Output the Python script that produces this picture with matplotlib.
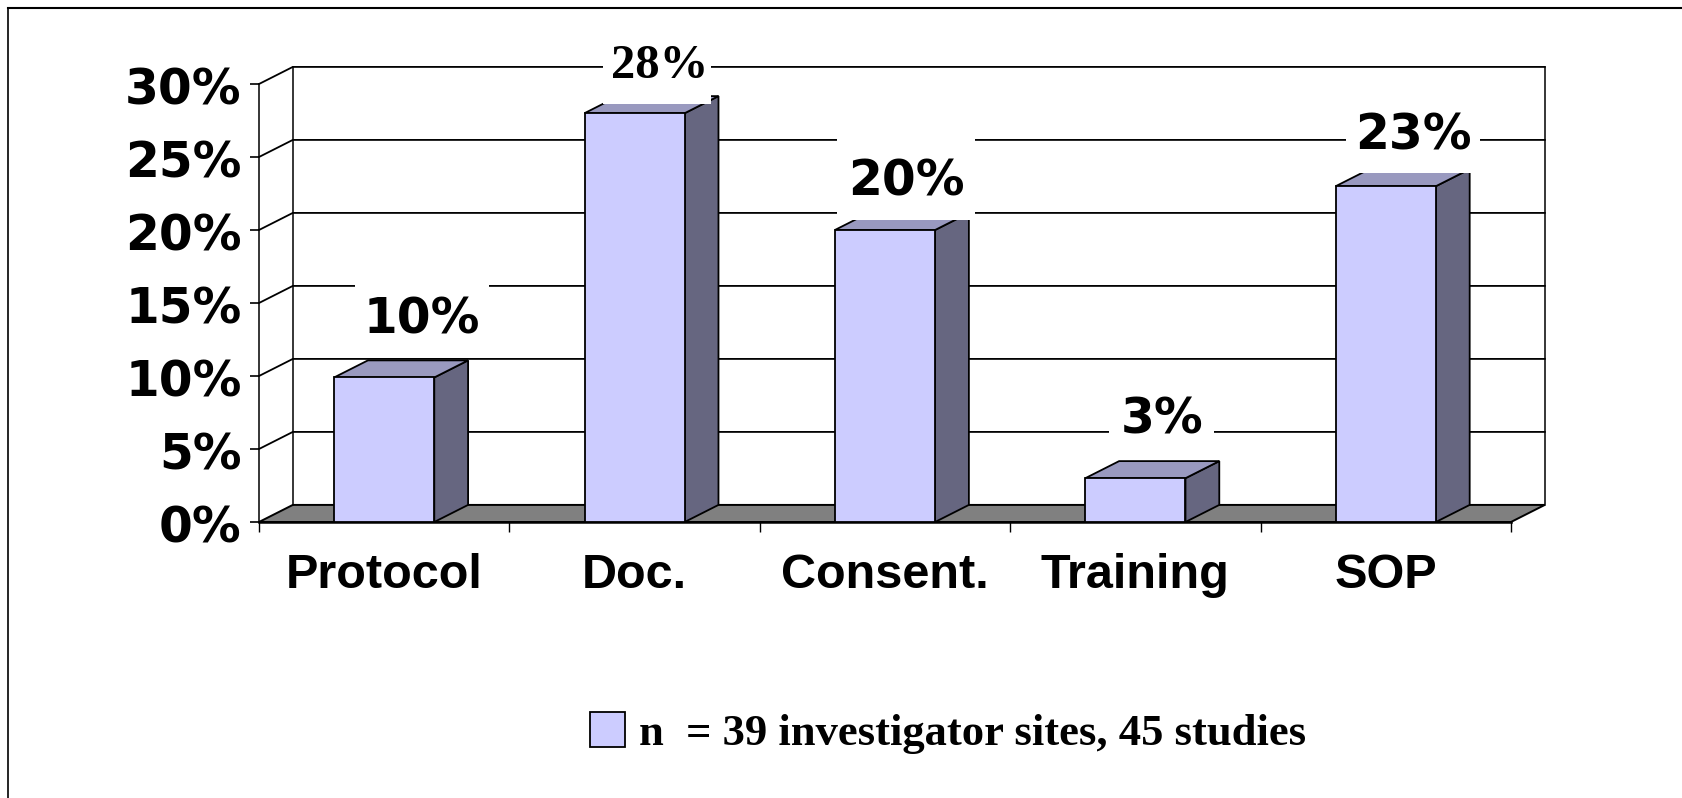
import matplotlib
matplotlib.use('Agg')
import matplotlib.pyplot as plt
from matplotlib.lines import Line2D
from matplotlib.patches import Rectangle
from matplotlib.transforms import ScaledTranslation

categories = ['Protocol', 'Doc.', 'Consent.', 'Training', 'SOP']
values = [9.9, 28, 20, 3, 23]
value_labels = ['10%', '28%', '20%', '3%', '23%']
y_ticks = [0, 5, 10, 15, 20, 25, 30]
y_tick_labels = ['0%', '5%', '10%', '15%', '20%', '25%', '30%']
legend_label = 'n  = 39 investigator sites, 45 studies'

# label placement relative to the top of each bar
label_dx = [0.15, 0.09, 0.085, 0.105, 0.11]
label_dy = [4.2, 3.4, 3.5, 4.2, 3.7]
label_box_w = [0.535, 0.43, 0.55, 0.42, 0.535]
label_box_h = 5.6
text_shift = -0.2

W, H = 1683, 798
depth_x = 0.135
depth_y = 1.17
bar_w = 0.4

front = '#CCCCFF'
side = '#666680'
top = '#9999BF'
floor = '#808080'
sans = 'DejaVu Sans'
cat_font = 'Liberation Sans'
serif = 'Liberation Serif'

fig = plt.figure(figsize=(W / 100, H / 100), dpi=100, facecolor='white')
ax = fig.add_axes([259 / W, 1 - 522 / H, 1252 / W, 438 / H])
ax.set_xlim(0, 5)
ax.set_ylim(0, 30)
ax.patch.set_visible(False)

# floor and walls
ax.fill([0, 5, 5 + depth_x, depth_x], [0, 0, depth_y, depth_y],
        color=floor, ec='black', lw=1.4, zorder=1, clip_on=False)
for v in y_ticks[1:]:
    ax.plot([0, depth_x, 5 + depth_x], [v, v + depth_y, v + depth_y],
            color='black', lw=1.3, zorder=1, clip_on=False)
ax.plot([depth_x, depth_x], [depth_y, 30 + depth_y], color='black', lw=1.1, zorder=1, clip_on=False)
ax.plot([5 + depth_x, 5 + depth_x], [depth_y, 30 + depth_y], color='black', lw=1.1, zorder=1, clip_on=False)

# 3d bars
x_pos = [i + 0.5 for i in range(len(categories))]
ax.bar(x_pos, values, width=bar_w, color=front, edgecolor='black', linewidth=1.3,
       zorder=3, label=legend_label, clip_on=False)
for x, v in zip(x_pos, values):
    l = x - bar_w / 2
    r = x + bar_w / 2
    ax.fill([r, r + depth_x, r + depth_x, r], [0, depth_y, v + depth_y, v],
            fc=side, ec='black', lw=1.3, zorder=2, clip_on=False)
    ax.fill([l, r, r + depth_x, l + depth_x], [v, v, v + depth_y, v + depth_y],
            fc=top, ec='black', lw=1.3, zorder=2, clip_on=False)

# value labels, each on a white box that hides what is behind it
for i, (x, v) in enumerate(zip(x_pos, values)):
    cx = x + label_dx[i]
    cy = v + label_dy[i]
    ax.add_patch(Rectangle((cx - label_box_w[i] / 2, cy - label_box_h / 2), label_box_w[i], label_box_h,
                           fc='white', ec='none', zorder=4, clip_on=False))
    if value_labels[i] == '28%':
        ax.text(cx + 0.008, cy + text_shift, value_labels[i], family=serif, weight='bold', fontsize=35,
                ha='center', va='center', zorder=5)
    else:
        ax.text(cx, cy + text_shift, value_labels[i], family=sans, weight='bold', fontsize=35,
                ha='center', va='center', zorder=5)

# axes
for s in ['top', 'right']:
    ax.spines[s].set_visible(False)
ax.spines['left'].set_linewidth(1.1)
ax.spines['bottom'].set_linewidth(1.8)
ax.spines['left'].set_zorder(2)
ax.spines['bottom'].set_zorder(2)
ax.set_yticks(y_ticks)
ax.set_yticklabels(y_tick_labels, family=sans, weight='bold', fontsize=35)
ax.tick_params(axis='y', length=6.5, width=1.2, pad=6)
shift_down = ScaledTranslation(0, -1 / 72, fig.dpi_scale_trans)
for lab in ax.get_yticklabels():
    lab.set_transform(lab.get_transform() + shift_down)
ax.set_xticks(range(6))
ax.set_xticklabels([])
ax.tick_params(axis='x', which='major', length=7, width=1)
ax.set_xticks(x_pos, minor=True)
ax.set_xticklabels(categories, minor=True, family=cat_font, weight='bold', fontsize=35)
ax.tick_params(axis='x', which='minor', length=0, pad=22.5)

fig.legend(loc='center', bbox_to_anchor=(948 / W, 1 - 733 / H), frameon=False,
           prop={'family': serif, 'weight': 'bold', 'size': 32.1},
           handlelength=0.8, handleheight=0.85, handletextpad=0.31)

# frame of the slide: only top and left edges are in the picture
fig.add_artist(Line2D([8 / W, 1], [1 - 8 / H, 1 - 8 / H], color='black', lw=1.5))
fig.add_artist(Line2D([8 / W, 8 / W], [0, 1 - 8 / H], color='black', lw=1.2))

fig.savefig('out.png', dpi=100)
